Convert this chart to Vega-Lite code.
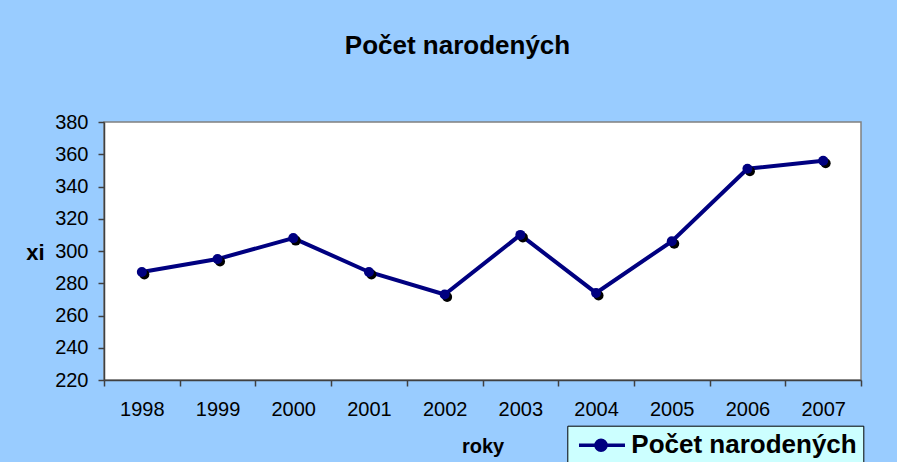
{
  "$schema": "https://vega.github.io/schema/vega-lite/v6.json",
  "width": 757,
  "height": 258,
  "autosize": {"type": "none"},
  "padding": {"left": 104, "top": 122, "right": 36, "bottom": 82},
  "background": "#99CCFF",
  "title": {
    "text": "Počet narodených",
    "font": "Liberation Sans",
    "fontSize": 26,
    "fontWeight": "bold",
    "color": "black",
    "anchor": "middle",
    "frame": "group",
    "dx": -25,
    "offset": 53
  },
  "data": {
    "values": [
      {"rok": "1998", "pocet": 287, "series": "Počet narodených"},
      {"rok": "1999", "pocet": 295, "series": "Počet narodených"},
      {"rok": "2000", "pocet": 308, "series": "Počet narodených"},
      {"rok": "2001", "pocet": 287, "series": "Počet narodených"},
      {"rok": "2002", "pocet": 273, "series": "Počet narodených"},
      {"rok": "2003", "pocet": 310, "series": "Počet narodených"},
      {"rok": "2004", "pocet": 274, "series": "Počet narodených"},
      {"rok": "2005", "pocet": 306, "series": "Počet narodených"},
      {"rok": "2006", "pocet": 351, "series": "Počet narodených"},
      {"rok": "2007", "pocet": 356, "series": "Počet narodených"}
    ]
  },
  "encoding": {
    "x": {
      "field": "rok",
      "type": "ordinal",
      "scale": {"type": "band", "paddingInner": 0, "paddingOuter": 0},
      "axis": {
        "title": "roky",
        "labelAngle": 0,
        "tickBand": "extent",
        "tickSize": 6,
        "labelPadding": 13.5,
        "titleFontSize": 20,
        "titleBaseline": "alphabetic",
        "titleY": 72.5
      }
    },
    "y": {
      "field": "pocet",
      "type": "quantitative",
      "scale": {"domain": [220, 380], "nice": false, "zero": false},
      "axis": {
        "title": "xi",
        "values": [220, 240, 260, 280, 300, 320, 340, 360, 380],
        "grid": false,
        "tickSize": 6,
        "labelPadding": 10,
        "titleAngle": 0,
        "titleAlign": "center",
        "titleBaseline": "alphabetic",
        "titleFontSize": 22,
        "titleX": -69,
        "titleY": 137
      }
    }
  },
  "layer": [
    {
      "mark": {"type": "line", "strokeWidth": 4},
      "encoding": {
        "color": {
          "field": "series",
          "type": "nominal",
          "scale": {"range": ["#000080"]},
          "legend": {
            "title": null,
            "orient": "none",
            "legendX": 463.3,
            "legendY": 303.7,
            "fillColor": "#CCFFFF",
            "strokeColor": "black",
            "padding": 6,
            "symbolType": "M-0.68,0H3.32M0.8,0A0.435,0.435,0,1,1,1.67,0A0.435,0.435,0,1,1,0.8,0Z",
            "symbolSize": 529,
            "symbolFillColor": "#000080",
            "symbolStrokeColor": "#000080",
            "symbolStrokeWidth": 3.5,
            "symbolOpacity": 1,
            "labelOffset": 31,
            "labelFont": "Liberation Sans",
            "labelFontSize": 26,
            "labelFontWeight": "bold",
            "labelColor": "black",
            "labelLimit": 400
          }
        }
      }
    },
    {
      "mark": {"type": "circle", "color": "black", "size": 100, "opacity": 1, "xOffset": 2.5, "yOffset": 2.5}
    },
    {
      "mark": {"type": "circle", "color": "#000080", "size": 100, "opacity": 1}
    }
  ],
  "config": {
    "font": "Liberation Sans",
    "view": {"fill": "white", "stroke": "#808080", "strokeWidth": 1.5},
    "axis": {
      "labelFont": "Liberation Sans",
      "labelFontSize": 20,
      "labelColor": "black",
      "titleFont": "Liberation Sans",
      "titleFontWeight": "bold",
      "titleColor": "black",
      "domainColor": "#404040",
      "domainWidth": 1.5,
      "tickColor": "#404040",
      "tickWidth": 1.5
    }
  }
}
